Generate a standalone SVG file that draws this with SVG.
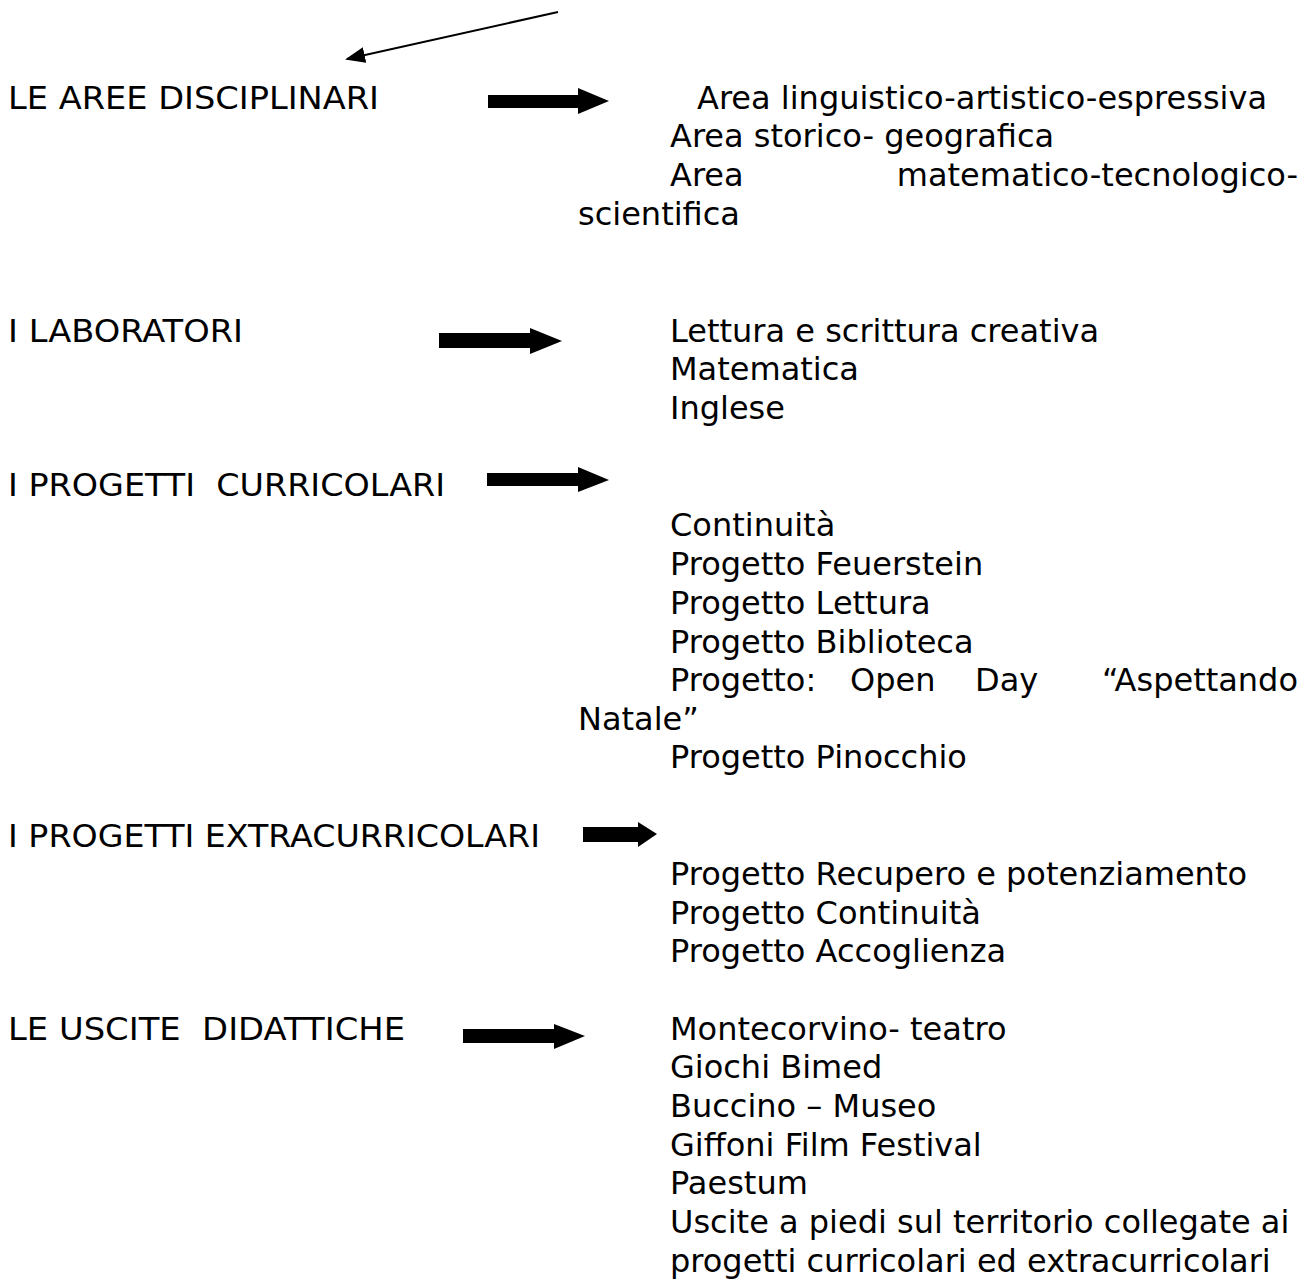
<svg xmlns="http://www.w3.org/2000/svg" width="1308" height="1281" viewBox="0 0 1308 1281">
<defs>
<style>
text{font-family:"DejaVu Sans","Liberation Sans",sans-serif;font-size:32px;fill:#000}
.blk{fill:#000}
</style>
<marker id="ah" markerWidth="10" markerHeight="8" refX="9" refY="4" orient="auto" markerUnits="strokeWidth">
<path d="M0,0 L10,4 L0,8 Z" fill="#000"/>
</marker>
</defs>
<rect width="1308" height="1281" fill="#fff"/>
<g id="connectors">
<line x1="558" y1="12" x2="347" y2="59" stroke="#000" stroke-width="2" marker-end="url(#ah)"/>
<path class="blk" d="M488,95 H578 V88 L609,101 L578,114 V108 H488 Z"/>
<path class="blk" d="M439,333 H530 V328 L562,341 L530,354 V348 H439 Z"/>
<path class="blk" d="M487,473 H578 V467 L609,480 L578,492 V486 H487 Z"/>
<path class="blk" d="M583,827 H638 V822 L657,834 L638,847 V842 H583 Z"/>
<path class="blk" d="M463,1029 H554 V1024 L585,1036 L554,1049 V1043 H463 Z"/>
</g>
<g id="aree">
<text x="8" y="109" textLength="371" lengthAdjust="spacingAndGlyphs">LE AREE DISCIPLINARI</text>
<text x="697" y="109">Area linguistico-artistico-espressiva</text>
<text x="670" y="147">Area storico- geografica</text>
<text x="670" y="186">Area</text>
<text x="1298" y="186" text-anchor="end">matematico-tecnologico-</text>
<text x="578" y="225">scientifica</text>
</g>
<g id="laboratori">
<text x="8" y="342" textLength="235" lengthAdjust="spacingAndGlyphs">I LABORATORI</text>
<text x="670" y="342">Lettura e scrittura creativa</text>
<text x="670" y="380">Matematica</text>
<text x="670" y="419">Inglese</text>
</g>
<g id="curricolari">
<text x="8" y="496" xml:space="preserve" textLength="437" lengthAdjust="spacingAndGlyphs">I PROGETTI  CURRICOLARI</text>
<text x="670" y="536">Continuità</text>
<text x="670" y="575">Progetto Feuerstein</text>
<text x="670" y="614">Progetto Lettura</text>
<text x="670" y="653">Progetto Biblioteca</text>
<text x="670" y="691">Progetto:</text>
<text x="850" y="691">Open</text>
<text x="975" y="691">Day</text>
<text x="1298" y="691" text-anchor="end">“Aspettando</text>
<text x="578" y="730">Natale”</text>
<text x="670" y="768">Progetto Pinocchio</text>
</g>
<g id="extracurricolari">
<text x="8" y="847" textLength="532" lengthAdjust="spacingAndGlyphs">I PROGETTI EXTRACURRICOLARI</text>
<text x="670" y="885">Progetto Recupero e potenziamento</text>
<text x="670" y="924">Progetto Continuità</text>
<text x="670" y="962">Progetto Accoglienza</text>
</g>
<g id="uscite">
<text x="8" y="1040" xml:space="preserve" textLength="397" lengthAdjust="spacingAndGlyphs">LE USCITE  DIDATTICHE</text>
<text x="670" y="1040">Montecorvino- teatro</text>
<text x="670" y="1078">Giochi Bimed</text>
<text x="670" y="1117">Buccino – Museo</text>
<text x="670" y="1156">Giffoni Film Festival</text>
<text x="670" y="1194">Paestum</text>
<text x="670" y="1233">Uscite a piedi sul territorio collegate ai</text>
<text x="670" y="1272">progetti curricolari ed extracurricolari</text>
</g>
</svg>
